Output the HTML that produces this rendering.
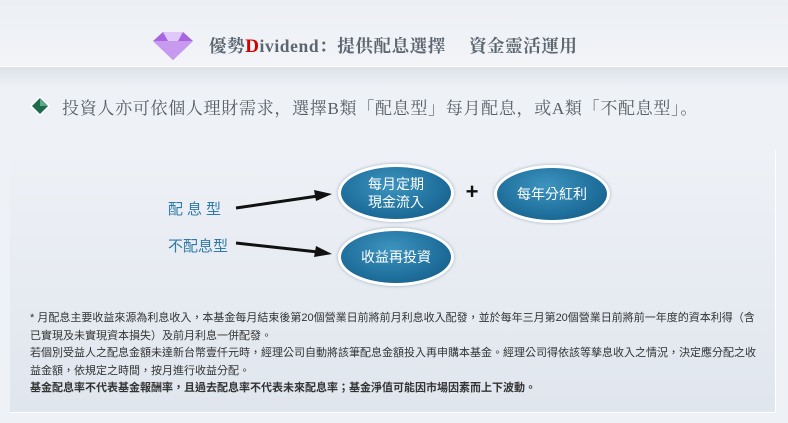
<!DOCTYPE html>
<html><head><meta charset="utf-8"><style>
body{margin:0;width:788px;height:423px;overflow:hidden;background:#eef1f6;font-family:"Liberation Sans","Noto Sans CJK TC",sans-serif;position:relative}
.hdr{position:absolute;left:0;top:0;width:788px;height:66px;background:linear-gradient(#eceff4,#f2f4f8);border-bottom:1px solid #fff}
.shade{position:absolute;left:0;top:67px;width:788px;height:20px;background:linear-gradient(#dde2e9,#eef1f6)}
.t1{position:absolute;left:209px;top:33px;font:bold 17.5px "Liberation Serif","Noto Serif CJK SC",serif;color:#5c6670;white-space:nowrap;letter-spacing:0.6px}
.t2{position:absolute;left:62px;top:94px;font:17px "Liberation Serif","Noto Serif CJK SC",serif;color:#555d66;white-space:nowrap;letter-spacing:0.7px}
.panel{position:absolute;left:10px;top:150px;width:765px;height:262px;background:linear-gradient(#eef1f6,#e0e6ee);border-right:1px solid #fff;border-bottom:1px solid #fff}
.notes{position:absolute;left:30px;top:310px;width:730px;font-size:11px;line-height:17.5px;color:#333;font-family:"Liberation Sans","Noto Sans CJK TC",sans-serif}
.ell{position:absolute;border-radius:50%;background:radial-gradient(ellipse at 45% 35%,#3d94bf,#1f6f9c 60%,#15557e);border:3px solid #fff;box-shadow:0 0 3px #9ab;color:#fff;font-size:14px;text-align:center;display:flex;align-items:center;justify-content:center;line-height:18px}
.lbl{position:absolute;color:#2f7aa8;font-size:15px;white-space:nowrap}
</style></head><body>
<div class="hdr"></div><div class="shade"></div>
<svg style="position:absolute;left:150px;top:28px" width="46" height="34"><polygon points="3,13 13,4 33,4 43,13 23,32" fill="#a566e0"/><polygon points="3,13 43,13 23,32" fill="#c79af0"/><polygon points="13,4 33,4 28,13 18,13" fill="#e0c8fa"/></svg>
<div class="t1">優勢<span style="color:#d40000;font-size:19px">D</span>ividend：提供配息選擇　 資金靈活運用</div>
<svg style="position:absolute;left:29px;top:95px" width="22" height="22"><polygon points="11,1 21,11 11,21 1,11" fill="#fff"/><polygon points="11,3 19,11 11,19 3,11" fill="#1e6b4c"/><polygon points="11,3 19,11 11,11" fill="#5fa888"/></svg>
<div class="t2">投資人亦可依個人理財需求，選擇B類「配息型」每月配息，或A類「不配息型」。</div>
<div class="panel"></div>
<div class="lbl" style="left:168px;top:198px;letter-spacing:4px">配息型</div>
<div class="lbl" style="left:168px;top:235px">不配息型</div>
<svg style="position:absolute;left:0;top:0" width="788" height="423">
<line x1="236" y1="208" x2="318" y2="196" stroke="#111" stroke-width="3"/><polygon points="332,194 314,190 316,201" fill="#111"/>
<line x1="236" y1="243" x2="318" y2="252" stroke="#111" stroke-width="3"/><polygon points="332,254 316,246 314,257" fill="#111"/>
<text x="472" y="199" font-size="22" font-weight="bold" text-anchor="middle" fill="#111" font-family="Liberation Sans">+</text>
</svg>
<div class="ell" style="left:338px;top:164px;width:110px;height:52px">每月定期<br>現金流入</div>
<div class="ell" style="left:494px;top:165px;width:110px;height:52px">每年分紅利</div>
<div class="ell" style="left:338px;top:228px;width:110px;height:52px">收益再投資</div>
<div class="notes">* 月配息主要收益來源為利息收入，本基金每月結束後第20個營業日前將前月利息收入配發，並於每年三月第20個營業日前將前一年度的資本利得（含已實現及未實現資本損失）及前月利息一併配發。<br>若個別受益人之配息金額未達新台幣壹仟元時，經理公司自動將該筆配息金額投入再申購本基金。經理公司得依該等孳息收入之情況，決定應分配之收益金額，依規定之時間，按月進行收益分配。<br><b>基金配息率不代表基金報酬率，且過去配息率不代表未來配息率；基金淨值可能因市場因素而上下波動。</b></div>
</body></html>
